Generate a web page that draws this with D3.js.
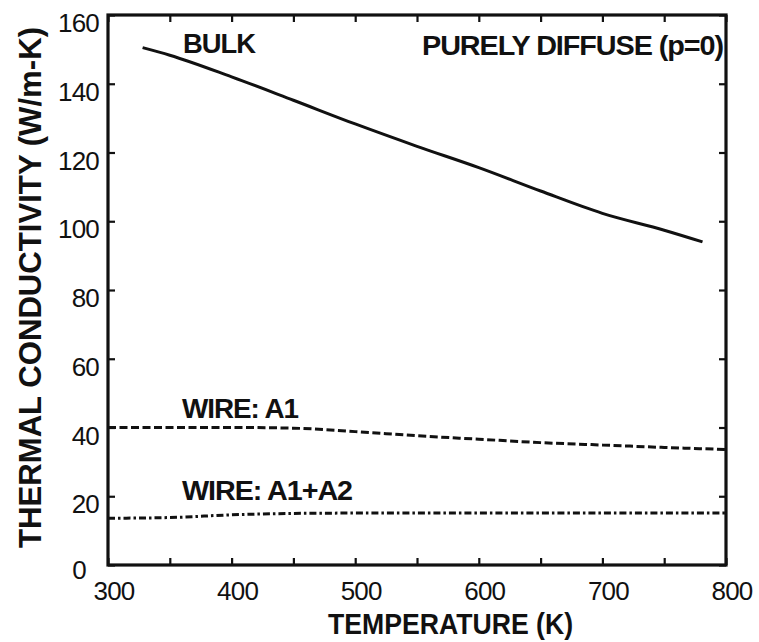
<!DOCTYPE html>
<html>
<head>
<meta charset="utf-8">
<script src="https://cdn.jsdelivr.net/npm/d3@7"></script>
<style>
  body { margin: 0; background: #fff; }
  svg { display: block; font-family: "Liberation Sans", Arial, Helvetica, sans-serif; }
</style>
</head>
<body>
<svg id="chart" width="759" height="642"></svg>
<script>
// temperatures (K) and conductivities (W/m-K)
const bulkT = [328, 350, 400, 450, 500, 550, 600, 650, 700, 750, 781];
const bulkK = [150.5, 148.3, 142, 135.2, 128.3, 121.8, 115.6, 108.8, 102.3, 97.4, 94];

const wireT = [300, 350, 400, 450, 500, 550, 600, 650, 700, 750, 800];
const wireA1 = [40, 40, 40, 39.8, 38.8, 37.6, 36.6, 35.6, 34.9, 34.2, 33.6];
const wireA1A2 = [13.6, 13.8, 14.6, 15, 15.1, 15.1, 15.1, 15.1, 15.1, 15.1, 15.1];

const xTickLabels = [300, 400, 500, 600, 700, 800];
const yTickLabels = [0, 20, 40, 60, 80, 100, 120, 140, 160];

const svg = d3.select("#chart");
const plotL = 108, plotR = 726, plotT = 15, plotB = 565;

const x = d3.scaleLinear().domain([300, 800]).range([plotL, plotR]);
const y = d3.scaleLinear().domain([0, 160]).range([plotB, plotT]);

const line = d3.line().x(d => x(d[0])).y(d => y(d[1])).curve(d3.curveMonotoneX);

// frame + inward ticks
function styleAxis(g) {
  g.select(".domain").remove();
  g.selectAll(".tick line").attr("stroke", "#111").attr("stroke-width", 2.2);
}

svg.append("g")
  .attr("transform", `translate(0,${plotB})`)
  .call(d3.axisBottom(x).tickValues(d3.range(300, 801, 50)).tickSize(-7).tickFormat(""))
  .call(styleAxis);
svg.append("g")
  .attr("transform", `translate(0,${plotT})`)
  .call(d3.axisTop(x).tickValues(d3.range(300, 801, 50)).tickSize(-7).tickFormat(""))
  .call(styleAxis);
svg.append("g")
  .attr("transform", `translate(${plotL},0)`)
  .call(d3.axisLeft(y).tickValues(yTickLabels).tickSize(-7).tickFormat(""))
  .call(styleAxis);
svg.append("g")
  .attr("transform", `translate(${plotR},0)`)
  .call(d3.axisRight(y).tickValues(yTickLabels).tickSize(-7).tickFormat(""))
  .call(styleAxis);

svg.append("rect")
  .attr("x", plotL).attr("y", plotT)
  .attr("width", plotR - plotL).attr("height", plotB - plotT)
  .attr("fill", "none").attr("stroke", "#111").attr("stroke-width", 3.2);

// tick labels
svg.append("g").selectAll("text")
  .data(xTickLabels)
  .join("text")
  .attr("x", d => x(d) + 6)
  .attr("y", 600)
  .attr("text-anchor", "middle")
  .attr("font-size", 26)
  .attr("letter-spacing", -0.8)
  .attr("fill", "#111")
  .text(d => d);

svg.append("g").selectAll("text")
  .data(yTickLabels)
  .join("text")
  .attr("x", d => d === 0 ? 86 : 99)
  .attr("y", d => y(d) + (d === 0 ? 14 : 17))
  .attr("text-anchor", "end")
  .attr("font-size", 26)
  .attr("letter-spacing", -0.8)
  .attr("fill", "#111")
  .text(d => d);

// axis titles
svg.append("text")
  .attr("x", 328).attr("y", 634)
  .attr("font-size", 30).attr("font-weight", "bold")
  .attr("textLength", 245).attr("lengthAdjust", "spacingAndGlyphs")
  .attr("fill", "#111")
  .text("TEMPERATURE (K)");

svg.append("text")
  .attr("transform", "translate(41,548) rotate(-90)")
  .attr("font-size", 31).attr("font-weight", "bold")
  .attr("textLength", 521).attr("lengthAdjust", "spacingAndGlyphs")
  .attr("fill", "#111")
  .text("THERMAL CONDUCTIVITY (W/m-K)");

// curves
const plot = svg.append("g").attr("fill", "none").attr("stroke", "#111").attr("stroke-width", 3);

plot.append("path")
  .datum(d3.zip(bulkT, bulkK))
  .attr("d", line);

plot.append("path")
  .datum(d3.zip(wireT, wireA1))
  .attr("stroke-dasharray", "8,3.5")
  .attr("d", line);

plot.append("path")
  .datum(d3.zip(wireT, wireA1A2))
  .attr("stroke-dasharray", "7,3,2.5,3")
  .attr("d", line);

// annotations
const notes = [
  { text: "BULK", x: 183, y: 53, w: 72 },
  { text: "PURELY DIFFUSE (p=0)", x: 422, y: 55, w: 301 },
  { text: "WIRE: A1", x: 182, y: 418, w: 116 },
  { text: "WIRE: A1+A2", x: 182, y: 500, w: 170 }
];

svg.append("g").selectAll("text")
  .data(notes)
  .join("text")
  .attr("x", d => d.x).attr("y", d => d.y)
  .attr("font-size", 27).attr("font-weight", "bold")
  .attr("letter-spacing", -1)
  .attr("textLength", d => d.w).attr("lengthAdjust", "spacingAndGlyphs")
  .attr("fill", "#111")
  .text(d => d.text);
</script>
</body>
</html>
